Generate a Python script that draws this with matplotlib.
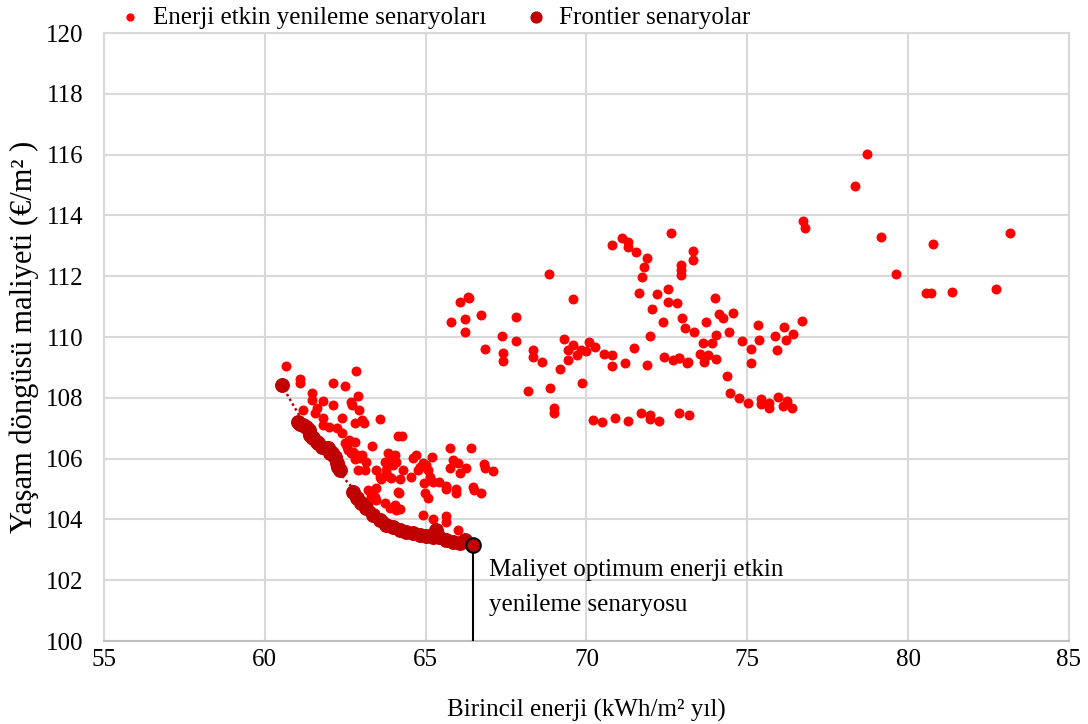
import numpy as np
import matplotlib.pyplot as plt

plt.rcParams['font.family'] = ['Liberation Serif', 'DejaVu Serif']

# Enerji etkin yenileme senaryolari (kirmizi noktalar)
senaryo_x = [
    78.72, 78.35, 76.73, 76.78, 79.16, 80.78, 83.17, 79.62, 80.56, 80.70, 81.37, 82.73,
    73.30, 73.30, 72.94, 72.94, 72.94, 73.98, 74.11, 74.23, 74.57, 73.72, 72.97, 73.07,
    73.35, 74.03, 74.42, 73.61, 73.90, 74.82, 75.32, 75.37, 75.10, 75.10, 75.86, 76.13,
    76.43, 76.70, 76.20, 75.92, 72.89, 73.15, 73.53, 73.77, 73.66, 74.03, 74.36, 74.47,
    74.75, 75.02, 75.43, 75.43, 75.68, 75.68, 75.96, 76.22, 76.10, 76.39, 72.89, 73.18,
    72.63, 70.80, 71.11, 71.28, 71.28, 71.54, 71.87, 71.78, 71.72, 71.62, 72.19, 72.52,
    72.52, 72.80, 72.04, 72.37, 71.96, 70.09, 70.25, 69.82, 69.98, 70.53, 70.80, 70.80,
    71.20, 71.47, 71.87, 72.40, 72.68, 72.87, 73.11, 73.66, 69.87, 70.20, 70.49, 70.89,
    71.30, 71.70, 71.98, 71.98, 72.25,
    68.85, 69.58, 66.06, 66.31, 66.35, 65.80, 66.21, 66.21, 66.73, 67.82, 67.82, 67.37,
    66.86, 67.40, 67.40, 68.35, 68.35, 68.62, 69.30, 69.58, 69.44, 69.44, 69.70, 69.18,
    68.18, 68.87, 68.99, 68.99, 65.75, 66.42,
    60.67, 61.08, 61.08, 62.13, 62.49, 62.83, 61.46, 61.46, 61.82, 62.13, 61.20, 61.61,
    61.56, 62.68, 62.70, 62.91, 62.94, 62.39, 63.01, 62.80, 61.98, 62.24, 62.39, 61.82,
    61.82, 62.62, 62.80, 62.55, 62.75, 63.01, 63.07, 63.57, 64.14, 64.26, 63.34, 62.69,
    62.85, 62.95, 63.16, 62.80, 63.83, 63.93, 64.04, 64.09, 63.88, 63.98, 63.73, 62.90,
    63.11, 63.47, 63.62, 63.83, 64.19, 64.30, 64.55, 64.60, 64.71, 64.76, 64.81, 64.92,
    65.02, 65.07, 65.12, 65.23, 64.94, 65.21, 65.85, 66.00, 65.75, 66.26, 66.06, 66.81,
    66.83, 67.09, 65.43, 65.64, 65.64, 65.95, 65.95, 66.47, 66.49, 66.73, 64.97, 65.07,
    64.17, 63.47, 63.21, 63.73, 64.04, 64.09, 64.92, 65.23, 65.62, 65.64, 66.00, 63.31,
    63.47, 64.14, 63.88, 63.26, 63.42, 64.19, 63.57, 63.78, 63.93, 62.48, 62.59,
]
senaryo_y = [
    116.03, 114.98, 113.82, 113.60, 113.30, 113.07, 113.41, 112.08, 111.45, 111.45, 111.47, 111.59,
    112.83, 112.53, 112.37, 112.20, 112.04, 111.29, 110.76, 110.64, 110.78, 110.49, 110.62, 110.31,
    110.15, 110.07, 110.17, 109.81, 109.81, 109.87, 110.39, 109.90, 109.60, 109.16, 110.04, 110.34,
    110.09, 110.54, 109.90, 109.57, 109.30, 109.19, 109.43, 109.40, 109.19, 109.27, 108.73, 108.17,
    107.98, 107.84, 107.95, 107.79, 107.82, 107.67, 108.02, 107.89, 107.74, 107.65, 107.51, 107.43,
    113.43, 113.03, 113.25, 113.14, 112.97, 112.81, 112.59, 112.31, 111.98, 111.44, 111.41, 111.57,
    111.16, 111.13, 110.92, 110.50, 110.04, 109.85, 109.66, 109.57, 109.54, 109.44, 109.41, 109.05,
    109.13, 109.65, 109.08, 109.33, 109.24, 109.32, 109.16, 109.35, 108.48, 107.27, 107.21, 107.33,
    107.24, 107.49, 107.43, 107.29, 107.24,
    112.07, 111.25, 111.14, 111.33, 111.27, 110.48, 110.58, 110.15, 110.72, 110.65, 109.88, 110.04,
    109.60, 109.46, 109.21, 109.57, 109.35, 109.19, 109.92, 109.74, 109.57, 109.24, 109.41, 108.94,
    108.24, 108.31, 107.65, 107.51, 106.34, 106.34,
    109.06, 108.61, 108.50, 108.50, 108.39, 108.88, 108.17, 107.93, 107.89, 107.76, 107.60, 107.65,
    107.49, 107.87, 107.76, 108.06, 107.60, 107.33, 107.27, 107.16, 107.05, 107.00, 106.83, 107.33,
    107.11, 106.61, 106.56, 106.39, 106.23, 106.12, 107.18, 107.30, 106.74, 106.74, 106.41, 106.17,
    106.12, 106.01, 105.90, 105.98, 106.17, 106.06, 106.12, 105.90, 105.85, 105.79, 105.90, 105.63,
    105.63, 105.63, 105.33, 105.43, 105.32, 105.63, 105.41, 106.01, 106.12, 105.63, 105.74, 105.85,
    105.79, 105.63, 105.41, 105.24, 105.21, 106.06, 105.95, 105.84, 105.68, 105.70, 105.52, 105.81,
    105.70, 105.59, 105.24, 105.10, 104.99, 104.99, 104.86, 105.06, 104.97, 104.86, 104.86, 104.69,
    104.86, 105.02, 104.97, 104.53, 104.47, 104.30, 104.14, 104.00, 104.11, 103.92, 103.65, 104.80,
    104.64, 104.91, 104.36, 104.64, 104.75, 104.33, 105.41, 105.63, 105.35, 106.50, 106.28,
]

# Frontier senaryolar (koyu kirmizi)
frontier_x = [
    60.52, 61.03, 61.08, 61.20, 61.29, 61.36, 61.40, 61.46, 61.50, 61.61, 61.66, 61.77,
    61.97, 61.98, 62.02, 62.08, 62.17, 62.23, 62.28, 62.33, 62.74, 62.85, 63.00, 63.16,
    63.36, 63.57, 63.78, 63.98, 64.19, 64.40, 64.60, 64.81, 65.02, 65.22, 65.33, 65.43,
    65.64, 65.85, 66.06, 66.21,
]
frontier_y = [
    108.42, 107.21, 107.15, 107.11, 107.05, 106.94, 106.78, 106.72, 106.67, 106.56, 106.50, 106.39,
    106.34, 106.28, 106.17, 106.17, 106.06, 105.84, 105.73, 105.63, 104.91, 104.69, 104.53, 104.36,
    104.14, 103.98, 103.82, 103.76, 103.65, 103.59, 103.54, 103.49, 103.45, 103.43, 103.65, 103.43,
    103.32, 103.26, 103.23, 103.32,
]

# Maliyet optimum senaryo
opt_x = 66.47
opt_y = 103.16

fig, ax = plt.subplots(figsize=(10.88, 7.24), dpi=100)
fig.subplots_adjust(left=0.0956, right=0.9825, top=0.9544, bottom=0.1146)

ax.scatter(senaryo_x, senaryo_y, s=38, color='#FF0000', zorder=3,
           label='Enerji etkin yenileme senaryoları')
ax.scatter(frontier_x, frontier_y, s=95, color='#C00000', zorder=4,
           label='Frontier senaryolar')

# trend cizgisi (frontier)
katsayi = np.polyfit(frontier_x + [opt_x], frontier_y + [opt_y], 2)
xx = np.linspace(min(frontier_x), opt_x, 200)
ax.plot(xx, np.polyval(katsayi, xx), linestyle=(0, (1, 1.2)), color='#C00000',
        linewidth=1.8, zorder=2)

ax.scatter([opt_x], [opt_y], s=110, color='#C00000', edgecolor='black',
           linewidth=1.5, zorder=5)
ax.plot([opt_x, opt_x], [100, opt_y], color='black', linewidth=1.5, zorder=4)
ax.text(66.96, 102.33, 'Maliyet optimum enerji etkin', fontsize=18,
        va='center', ha='left')
ax.text(66.96, 101.18, 'yenileme senaryosu', fontsize=18,
        va='center', ha='left')

ax.set_xlim(55, 85)
ax.set_ylim(100, 120)
ax.set_xticks(range(55, 86, 5))
ax.set_yticks(range(100, 121, 2))
ax.grid(True, color='#D9D9D9', linewidth=1.5)
ax.set_axisbelow(True)
for sp in ax.spines.values():
    sp.set_color('#D9D9D9')
    sp.set_linewidth(1.5)
ax.spines['bottom'].set_color('#BFBFBF')
ax.tick_params(length=0, labelsize=18, colors='#404040', labelcolor='black')
ax.tick_params(axis='x', pad=6)
ax.tick_params(axis='y', pad=15)

ax.set_xlabel('Birincil enerji (kWh/m² yıl)', fontsize=18, labelpad=20)
ax.set_ylabel('Yaşam döngüsü maliyeti (€/m² )', fontsize=22, labelpad=5)

fig.legend(loc='center', bbox_to_anchor=(0.40, 0.976), ncol=2, frameon=False,
           fontsize=18, handlelength=0.8, handletextpad=0.5, columnspacing=1.6,
           markerscale=0.8)

plt.savefig('out.png')
